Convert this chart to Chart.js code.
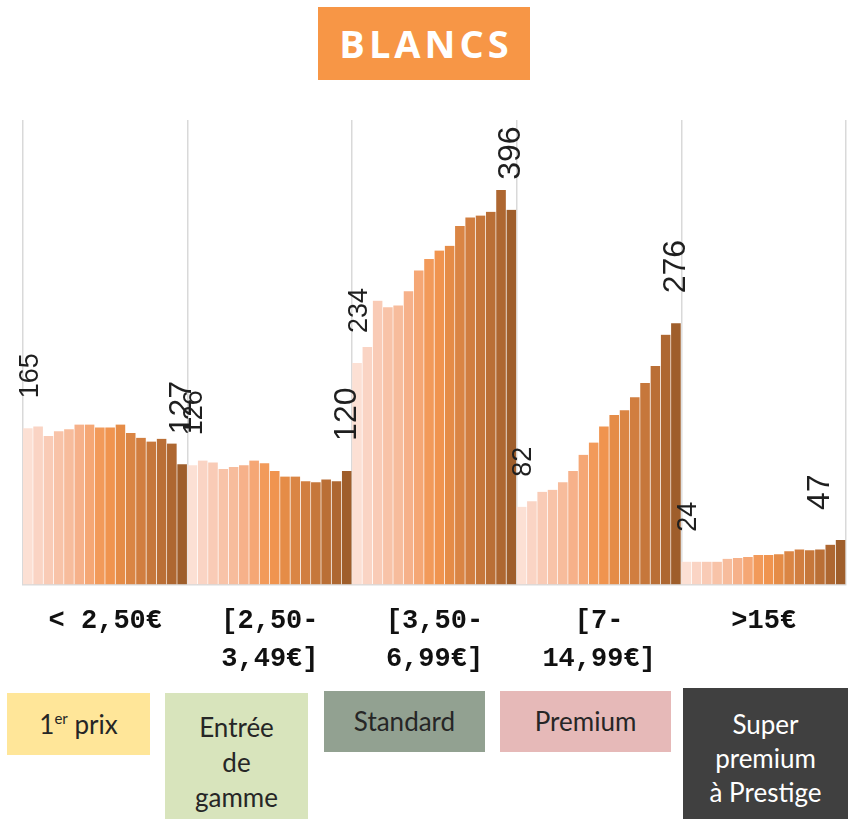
<!DOCTYPE html>
<html>
<head>
<meta charset="utf-8">
<script src="https://cdn.jsdelivr.net/npm/chart.js@4.4.1/dist/chart.umd.min.js"></script>
<style>
  html, body { margin: 0; padding: 0; background: #fff; }
  body { width: 848px; height: 819px; position: relative; overflow: hidden; font-family: Lato, "Open Sans", sans-serif; }
  #title {
    position: absolute; left: 318px; top: 7px; width: 212px; height: 73px;
    background: #F79646; color: #fff; font: bold 38px "Open Sans", sans-serif;
    letter-spacing: 4px; text-indent: 4px; line-height: 73px; text-align: center;
  }
  #wrap { position: absolute; left: 0; top: 0; width: 848px; height: 696px; }
  .box { position: absolute; text-align: center; font-size: 26px; color: #262626; box-sizing: border-box; }
  .box sup { font-size: 15px; vertical-align: 10px; line-height: 0; }
</style>
</head>
<body>
<div id="title">BLANCS</div>
<div id="wrap"><canvas id="chart"></canvas></div>

<div class="box" style="left:7px;top:693px;width:143px;height:62px;background:#FFE699;line-height:62px;">1<sup>er</sup> prix</div>
<div class="box" style="left:165px;top:693px;width:143px;height:126px;background:#D8E4BC;line-height:35px;padding-top:17px;">Entrée<br>de<br>gamme</div>
<div class="box" style="left:324px;top:691px;width:161px;height:61px;background:#92A191;line-height:61px;">Standard</div>
<div class="box" style="left:500px;top:691px;width:171px;height:61px;background:#E6B9B8;line-height:61px;">Premium</div>
<div class="box" style="left:683px;top:688px;width:165px;height:131px;background:#404040;color:#fff;line-height:34px;padding-top:19px;">Super<br>premium<br>à Prestige</div>

<script>
// tranches de prix (axe du bas)
const groupLabels = ["< 2,50€", ["[2,50-", "3,49€]"], ["[3,50-", "6,99€]"], ["[7-", "14,99€]"], ">15€"];

// 16 barres par tranche
const premierPrix = [165, 167, 157, 162, 164, 169, 169, 166, 166, 169, 160, 155, 151, 154, 149, 127];
const entreeGamme = [126, 131, 129, 122, 124, 126, 131, 128, 120, 114, 114, 109, 108, 111, 109, 120];
const standard    = [234, 251, 300, 293, 295, 310, 332, 344, 353, 358, 379, 388, 390, 394, 417, 396];
const premium     = [82, 88, 98, 100, 108, 120, 137, 150, 167, 179, 184, 198, 213, 231, 264, 276];
const superPremium = [24, 24, 24, 24, 27, 28, 29, 31, 31, 32, 35, 37, 36, 37, 42, 47];

const groups = [premierPrix, entreeGamme, standard, premium, superPremium];
const perGroup = 16;

// degrade clair -> brun, repete dans chaque tranche
const shades = ["#FCE0D4", "#FAD4C4", "#F9CBB6", "#F8C3A8", "#F7BC9C", "#F6B18A", "#F5A775", "#F29A5A",
                "#F0944F", "#E58C47", "#DA8544", "#D17E40", "#C6773B", "#BA6F36", "#AE6731", "#9F5E2B"];

const values = groups.flat();
const barLabels = values.map((v, i) => String(i));

// etiquettes verticales sur la premiere et la derniere barre de chaque tranche
const endLabels = {
    id: 'endLabels',
    afterDatasetsDraw(chart) {
        const ctx = chart.ctx;
        const meta = chart.getDatasetMeta(0);
        const area = chart.chartArea;
        ctx.save();
        ctx.fillStyle = '#1f1f1f';
        ctx.textBaseline = 'middle';
        ctx.textAlign = 'left';
        meta.data.forEach((bar, i) => {
            const pos = i % perGroup;
            if (pos !== 0 && pos !== perGroup - 1) return;
            const first = pos === 0;
            ctx.font = (first ? 27 : 32) + 'px "Liberation Sans", Arial, sans-serif';
            let x = bar.x + (first ? 2 : 0);
            x = Math.min(x, area.right - 26);
            ctx.save();
            ctx.translate(x, bar.y - 30);
            ctx.rotate(-Math.PI / 2);
            ctx.fillText(String(values[i]), 0, 0);
            ctx.restore();
        });
        ctx.restore();
    }
};

new Chart(document.getElementById('chart'), {
    type: 'bar',
    data: {
        labels: barLabels,
        datasets: [{
            data: values,
            backgroundColor: ctx => shades[ctx.dataIndex % perGroup],
            borderColor: 'rgba(255,255,255,0.35)',
            borderWidth: { left: 0, right: 1, top: 0, bottom: 0 },
            barPercentage: 1,
            categoryPercentage: 1
        }]
    },
    options: {
        responsive: true,
        maintainAspectRatio: false,
        animation: false,
        layout: { padding: { top: 120, left: 23, right: 2, bottom: 0 } },
        plugins: { legend: { display: false }, tooltip: { enabled: false }, title: { display: false } },
        scales: {
            x: { display: false },
            xg: {
                type: 'category',
                position: 'bottom',
                labels: groupLabels,
                offset: true,
                grid: { offset: true, color: '#D9D9D9', lineWidth: 1.5, drawTicks: false },
                border: { color: '#D9D9D9', width: 1.5 },
                ticks: {
                    color: '#111',
                    padding: 18,
                    maxRotation: 0,
                    autoSkip: false,
                    font: { family: '"Liberation Mono", "DejaVu Sans Mono", monospace', size: 27, weight: 'bold', lineHeight: 1.4 }
                }
            },
            y: { display: false, min: 0, max: 491 }
        }
    },
    plugins: [endLabels]
});
</script>
</body>
</html>
